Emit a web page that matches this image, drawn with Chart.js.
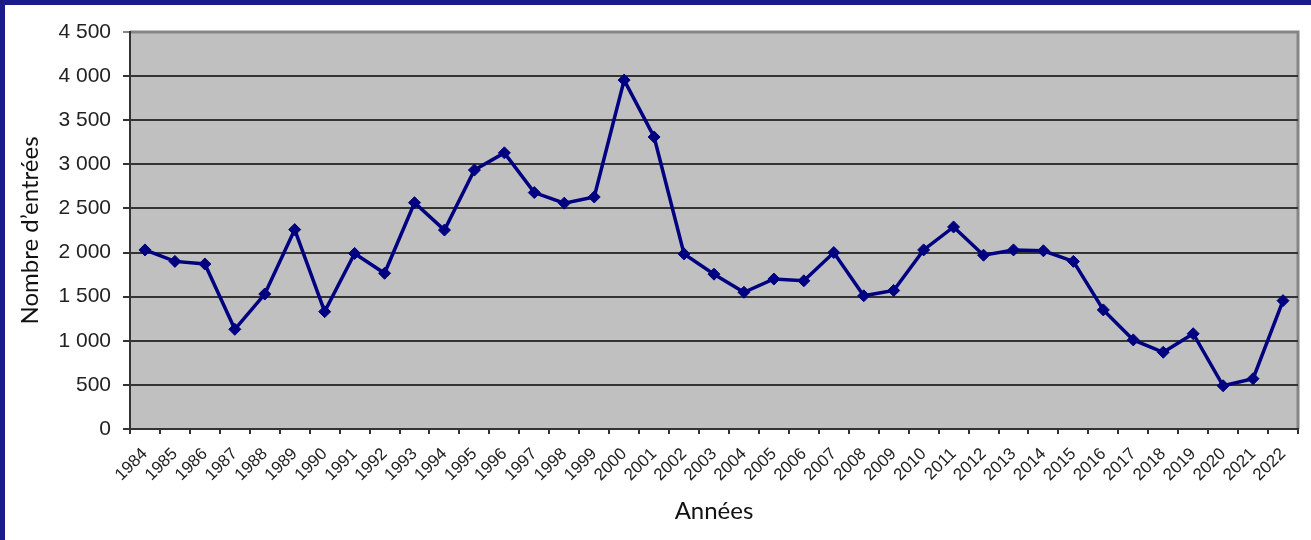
<!DOCTYPE html>
<html lang="fr">
<head>
    <meta charset="UTF-8">
    <title>Nombre d'entrées par année</title>
    <script src="https://cdn.jsdelivr.net/npm/chart.js"></script>
    <style>
        html, body {
            margin: 0;
            padding: 0;
            background: #fff;
        }
        .frame {
            width: 1306px;
            height: 535px;
            border-top: 5px solid #1b1b8c;
            border-left: 5px solid #1b1b8c;
            background: #fff;
        }
        .chart-box {
            position: relative;
            width: 1306px;
            height: 535px;
        }
    </style>
</head>
<body>
    <div class="frame">
        <div class="chart-box">
            <canvas id="entriesChart"></canvas>
        </div>
    </div>

    <script>
        // Data
        const years = ['1984', '1985', '1986', '1987', '1988', '1989', '1990', '1991', '1992', '1993',
                       '1994', '1995', '1996', '1997', '1998', '1999', '2000', '2001', '2002', '2003',
                       '2004', '2005', '2006', '2007', '2008', '2009', '2010', '2011', '2012', '2013',
                       '2014', '2015', '2016', '2017', '2018', '2019', '2020', '2021', '2022'];
        const entries = [2030, 1900, 1870, 1130, 1530, 2260, 1330, 1990, 1765, 2565,
                         2255, 2935, 3130, 2680, 2560, 2630, 3955, 3310, 1985, 1755,
                         1550, 1700, 1680, 2000, 1510, 1570, 2030, 2290, 1970, 2030,
                         2020, 1900, 1350, 1010, 870, 1080, 490, 570, 1455];
        const yTickLabels = ['0', '500', '1 000', '1 500', '2 000', '2 500', '3 000', '3 500', '4 000', '4 500'];

        // Grey plot background + grey top/right frame like the spreadsheet chart
        const plotBackground = {
            id: 'plotBackground',
            beforeDraw(chart) {
                const { ctx, chartArea: a } = chart;
                ctx.save();
                ctx.fillStyle = '#c0c0c0';
                ctx.fillRect(a.left, a.top, a.right - a.left, a.bottom - a.top);
                ctx.strokeStyle = '#858585';
                ctx.lineWidth = 3;
                ctx.beginPath();
                ctx.moveTo(a.left, a.top);
                ctx.lineTo(a.right, a.top);
                ctx.lineTo(a.right, a.bottom);
                ctx.stroke();
                ctx.restore();
            }
        };

        new Chart(document.getElementById('entriesChart'), {
            type: 'line',
            data: {
                labels: years,
                datasets: [{
                    label: 'Nombre d’entrées',
                    data: entries,
                    borderColor: '#000080',
                    backgroundColor: '#000080',
                    borderWidth: 3.5,
                    pointStyle: 'rectRot',
                    pointRadius: 6,
                    pointBorderWidth: 1,
                    tension: 0
                }]
            },
            options: {
                responsive: true,
                maintainAspectRatio: false,
                animation: false,
                layout: {
                    padding: { top: 27, right: 13, bottom: 0, left: 0 }
                },
                scales: {
                    x: {
                        offset: true,
                        grid: {
                            offset: true,
                            drawOnChartArea: false,
                            drawTicks: true,
                            tickLength: 5,
                            color: '#333',
                            lineWidth: 2
                        },
                        border: { color: '#333', width: 2 },
                        ticks: {
                            autoSkip: false,
                            minRotation: 45,
                            maxRotation: 45,
                            padding: 10,
                            color: '#222',
                            font: { family: 'Liberation Sans, Arial, sans-serif', size: 17 }
                        },
                        title: {
                            display: true,
                            text: 'Années',
                            color: '#111',
                            padding: { top: 0, bottom: 14 },
                            font: { family: 'Lato, sans-serif', size: 24 }
                        },
                        afterFit(scale) {
                            scale.height = 111;
                        }
                    },
                    y: {
                        min: 0,
                        max: 4500,
                        ticks: {
                            stepSize: 500,
                            padding: 12,
                            color: '#222',
                            font: { family: 'Liberation Sans, Arial, sans-serif', size: 21 },
                            callback: (value, index) => yTickLabels[index]
                        },
                        grid: {
                            color: ctx => ctx.tick && ctx.tick.value === 4500 ? '#858585' : '#333',
                            lineWidth: 2,
                            tickLength: 7
                        },
                        border: { color: '#333', width: 2 },
                        title: {
                            display: true,
                            text: 'Nombre d’entrées',
                            color: '#111',
                            padding: { top: 11, bottom: 0 },
                            font: { family: 'Lato, sans-serif', size: 24 }
                        },
                        afterFit(scale) {
                            scale.width = 125;
                        }
                    }
                },
                plugins: {
                    legend: { display: false },
                    tooltip: { enabled: true }
                }
            },
            plugins: [plotBackground]
        });
    </script>
</body>
</html>
